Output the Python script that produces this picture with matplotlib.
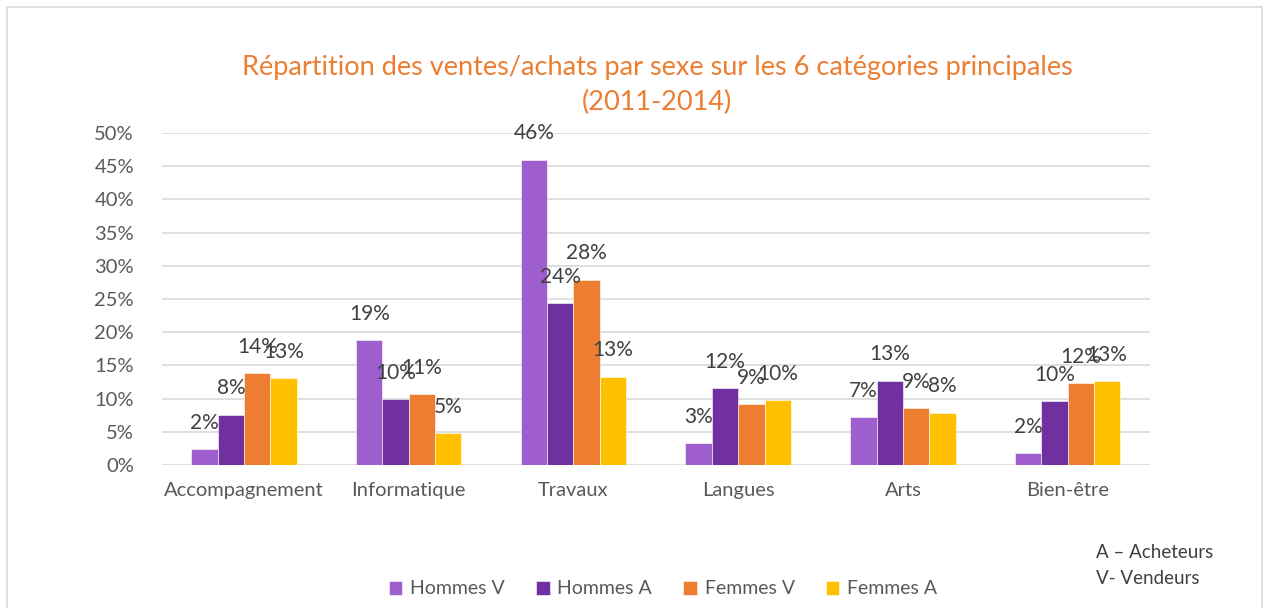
import matplotlib
matplotlib.use('Agg')
import matplotlib.pyplot as plt
import numpy as np
from matplotlib.patches import Rectangle

plt.rcParams['font.family'] = ['Lato', 'DejaVu Sans']

# données (en %)
categories = ['Accompagnement', 'Informatique', 'Travaux', 'Langues', 'Arts', 'Bien-être']
hommes_v = [2.4, 18.8, 46.0, 3.3, 7.2, 1.8]
hommes_a = [7.6, 9.9, 24.4, 11.6, 12.7, 9.6]
femmes_v = [13.8, 10.7, 27.9, 9.2, 8.6, 12.3]
femmes_a = [13.1, 4.8, 13.3, 9.8, 7.9, 12.6]
series_names = ['Hommes V', 'Hommes A', 'Femmes V', 'Femmes A']
yticks = [0, 5, 10, 15, 20, 25, 30, 35, 40, 45, 50]

colors = ['#9E5ECE', '#7030A0', '#ED7D31', '#FFC000']
grey_txt = '#595959'

fig = plt.figure(figsize=(12.66, 6.08), dpi=100)
# cadre du graphique
fig.patches.append(Rectangle((7 / 1266, -0.01), 1255 / 1266, 1 - 7 / 608 + 0.01,
                             transform=fig.transFigure, fill=False,
                             edgecolor='#d9d9d9', linewidth=1.2))

ax = fig.add_axes([161.7 / 1266, 1 - 465 / 608, (1150 - 161.7) / 1266, 332 / 608])

x = np.arange(len(categories))
w = 0.16
all_series = [hommes_v, hommes_a, femmes_v, femmes_a]
for i, (vals, name, c) in enumerate(zip(all_series, series_names, colors)):
    pos = x + (i - 1.5) * w
    ax.bar(pos, vals, width=w, color=c, label=name, zorder=2,
           edgecolor='white', linewidth=0.4)
    for xi, v in zip(pos, vals):
        ax.annotate('{:.0f}%'.format(v), (xi, v), xytext=(0, 19),
                    textcoords='offset points', ha='center', va='center',
                    fontsize=15, color='#404040', zorder=3)

ax.set_xlim(-0.5, len(categories) - 0.5)
ax.set_ylim(0, 50)
ax.set_yticks(yticks)
ax.set_yticklabels(['{}%'.format(t) for t in yticks])
ax.set_xticks(x)
ax.set_xticklabels(categories)
ax.tick_params(axis='both', length=0, labelsize=14.5, colors=grey_txt)
ax.tick_params(axis='y', pad=20)
ax.tick_params(axis='x', pad=12)
ax.grid(axis='y', color='#d9d9d9', linewidth=1.2, zorder=0)
for s in ax.spines.values():
    s.set_visible(False)

fig.text(657 / 1266, 1 - 68 / 608, 'Répartition des ventes/achats par sexe sur les 6 catégories principales',
         ha='center', va='center', fontsize=19.5, color='#ED7D31')
fig.text(657 / 1266, 1 - 102 / 608, '(2011-2014)',
         ha='center', va='center', fontsize=19.5, color='#ED7D31')

fig.legend(loc='center', bbox_to_anchor=(663 / 1266, 1 - 589 / 608), ncol=4,
           frameon=False, fontsize=14, labelcolor=grey_txt,
           handlelength=0.7, handleheight=0.7, handletextpad=0.4, columnspacing=1.6)

fig.text(1096 / 1266, 1 - 553 / 608, 'A – Acheteurs', ha='left', va='center',
         fontsize=13.5, color='#404040')
fig.text(1096 / 1266, 1 - 578 / 608, 'V- Vendeurs', ha='left', va='center',
         fontsize=13.5, color='#404040')

fig.savefig('out.png', dpi=100)
